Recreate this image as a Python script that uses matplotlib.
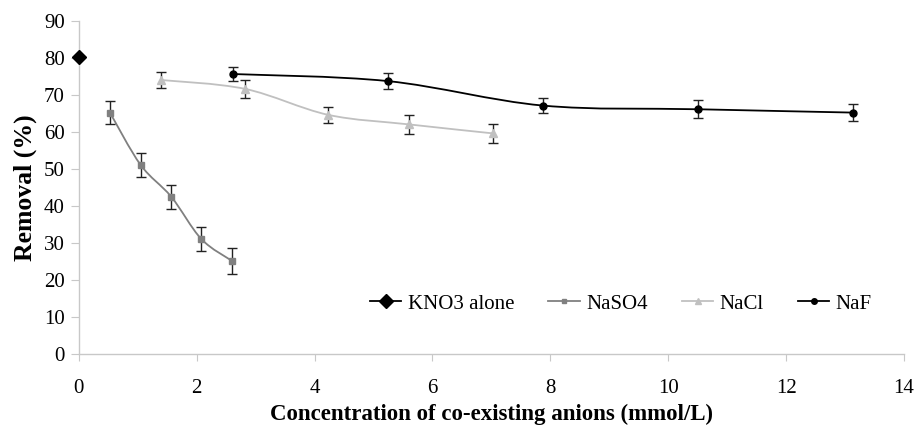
import matplotlib.pyplot as plt
import numpy as np
from matplotlib.path import Path
from matplotlib.patches import PathPatch
from matplotlib.lines import Line2D

plt.rcParams['font.family'] = ['Liberation Serif', 'DejaVu Serif']

# Data
kno3_x = [0.0]
kno3_y = [80.3]

naso4_x = [0.53, 1.05, 1.57, 2.08, 2.60]
naso4_y = [65.2, 51.1, 42.5, 31.1, 25.2]
naso4_err = [3.0, 3.3, 3.2, 3.3, 3.5]

nacl_x = [1.39, 2.82, 4.23, 5.61, 7.02]
nacl_y = [74.0, 71.6, 64.6, 62.0, 59.6]
nacl_err = [2.1, 2.4, 2.2, 2.5, 2.5]

naf_x = [2.62, 5.24, 7.87, 10.50, 13.13]
naf_y = [75.6, 73.7, 67.1, 66.1, 65.2]
naf_err = [1.9, 2.2, 2.0, 2.4, 2.4]

x_ticks = [0, 2, 4, 6, 8, 10, 12, 14]
y_ticks = [0, 10, 20, 30, 40, 50, 60, 70, 80, 90]


def smooth_path(xs, ys, tension=1 / 6):
    # Bezier path through the points, like a spreadsheet "smoothed line"
    pts = np.column_stack([xs, ys])
    verts = [pts[0]]
    codes = [Path.MOVETO]
    n = len(pts)
    for i in range(n - 1):
        p0 = pts[i - 1] if i > 0 else pts[i]
        p1 = pts[i]
        p2 = pts[i + 1]
        p3 = pts[i + 2] if i + 2 < n else pts[i + 1]
        c1 = p1 + (p2 - p0) * tension
        c2 = p2 - (p3 - p1) * tension
        verts += [c1, c2, p2]
        codes += [Path.CURVE4] * 3
    return Path(verts, codes)


fig = plt.figure(figsize=(9.16, 4.30), dpi=100)
ax = fig.add_axes([0.0859, 0.176, 0.9011, 0.776])

series = [
    (naso4_x, naso4_y, naso4_err, '#808080', 's', 4.5, 'NaSO4'),
    (nacl_x, nacl_y, nacl_err, '#c0c0c0', '^', 5.5, 'NaCl'),
    (naf_x, naf_y, naf_err, '#000000', 'o', 5, 'NaF'),
]

handles = []
ax.plot(kno3_x, kno3_y, linestyle='none', marker='D', markersize=7.5,
        color='black', clip_on=False, zorder=5)
handles.append(Line2D([], [], color='black', marker='D', markersize=7, lw=1.3))

for xs, ys, err, col, mk, ms, lab in series:
    ax.add_patch(PathPatch(smooth_path(xs, ys), facecolor='none',
                           edgecolor=col, lw=1.3, zorder=2))
    ax.errorbar(xs, ys, yerr=err, fmt='none', ecolor='#222222', elinewidth=1,
                capsize=3.5, capthick=1, zorder=3)
    ax.plot(xs, ys, linestyle='none', marker=mk, markersize=ms, color=col,
            zorder=4)
    handles.append(Line2D([], [], color=col, marker=mk, markersize=ms - 1, lw=1.3))

ax.set_xlim(0, 14)
ax.set_ylim(0, 90)
ax.set_xticks(x_ticks)
ax.set_yticks(y_ticks)

for s in ['top', 'right']:
    ax.spines[s].set_visible(False)
for s in ['left', 'bottom']:
    ax.spines[s].set_color('#c8c8c8')
    ax.spines[s].set_linewidth(1)
ax.tick_params(axis='y', direction='out', length=6, color='#c8c8c8',
               labelsize=15, pad=4)
ax.tick_params(axis='x', direction='out', length=5, color='#c8c8c8',
               labelsize=15, pad=13)

ax.set_xlabel('Concentration of co-existing anions (mmol/L)', fontsize=16.5,
              fontweight='bold', labelpad=4)
ax.set_ylabel('Removal (%)', fontsize=18.5, fontweight='bold', labelpad=5)

ax.legend(handles, ['KNO3 alone', 'NaSO4', 'NaCl', 'NaF'], ncol=4,
          frameon=False, fontsize=15, loc='center left',
          bbox_to_anchor=(0.353, 0.151), borderaxespad=0, borderpad=0,
          handlelength=1.5, columnspacing=1.65, handletextpad=0.3)

fig.savefig('out.png', dpi=100)
